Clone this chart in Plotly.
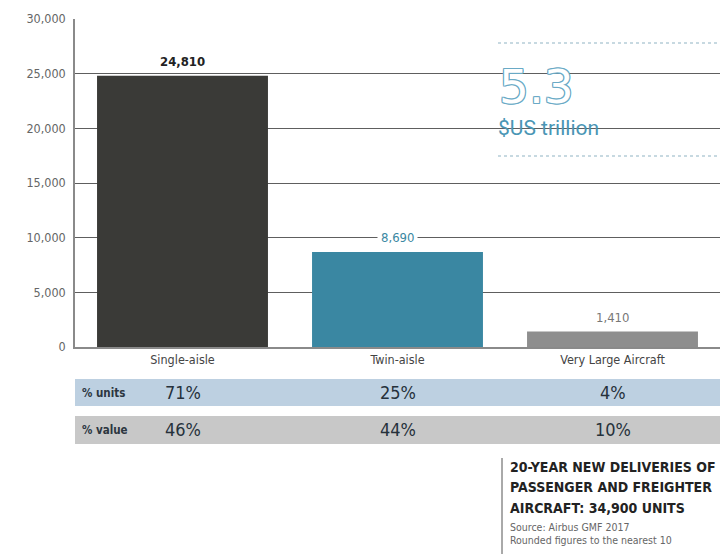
import plotly.graph_objects as go

categories = ["Single-aisle", "Twin-aisle", "Very Large Aircraft"]
deliveries = [24810, 8690, 1410]
bar_colors = ["#3a3a37", "#3a87a2", "#8e8e8e"]
label_colors = ["#222222", "#3a87a2", "#777777"]
pct_units = ["71%", "25%", "4%"]
pct_value = ["46%", "44%", "10%"]
row_names = ["% units", "% value"]
y_ticks = [0, 5000, 10000, 15000, 20000, 25000, 30000]
title_lines = ["20-YEAR NEW DELIVERIES OF", "PASSENGER AND FREIGHTER", "AIRCRAFT: 34,900 UNITS"]
source_lines = ["Source: Airbus GMF 2017", "Rounded figures to the nearest 10"]

FONT = "Liberation Sans Narrow, DejaVu Sans Condensed, Arial Narrow, Roboto, sans-serif"
TEAL = "#4a96b5"

# pixel helpers for the 720x554 canvas (plot area 75..720 x 19..347)
def py(pix):
    return (347 - pix) / 328

def px(pix):
    return (pix - 75) / 645

fig = go.Figure()
fig.add_trace(go.Bar(
    x=categories, y=deliveries,
    marker=dict(color=bar_colors, line=dict(width=0)),
    width=0.795, hoverinfo="skip", showlegend=False,
))

shapes = []
annotations = []

# value labels above bars
for i, (c, v) in enumerate(zip(categories, deliveries)):
    bold = i == 0
    annotations.append(dict(
        x=c, y=v, xref="x", yref="y", text=f"<b>{v:,}</b>" if bold else f"{v:,}",
        showarrow=False, yanchor="bottom", yshift=3,
        font=dict(family=FONT, size=13, color=label_colors[i]),
        bgcolor="white" if i == 1 else None, borderpad=3,
    ))

# 5.3 trillion callout box
shapes.append(dict(type="rect", xref="paper", yref="paper", x0=px(488), x1=1.0,
                   y0=py(162), y1=py(36), fillcolor="white", line=dict(width=0), layer="between"))
for yy in (43, 156):
    shapes.append(dict(type="line", xref="paper", yref="paper", x0=px(498), x1=1.0,
                       y0=py(yy), y1=py(yy), line=dict(color="#8fb3c4", width=1.2, dash="dot")))
outline = ", ".join(f"{a}px {b}px 0 #6aaac6" for a, b in
                    [(-1, -1), (1, -1), (-1, 1), (1, 1), (0, 1), (1, 0), (-1, 0), (0, -1)])
annotations.append(dict(x=px(497), y=py(87), xref="paper", yref="paper", text="5.3",
                        showarrow=False, xanchor="left", yanchor="middle",
                        font=dict(family="DejaVu Sans, sans-serif", size=47, color="white", shadow=outline)))
annotations.append(dict(x=px(496), y=py(128), xref="paper", yref="paper", text="$US trillion",
                        showarrow=False, xanchor="left", yanchor="middle",
                        font=dict(family="Roboto, sans-serif", size=21, color=TEAL)))

# percentage table rows
rows = [(pct_units, "#bdd0e1", 379, 406), (pct_value, "#c8c8c8", 416, 444)]
for name, (vals, col, top, bot) in zip(row_names, rows):
    shapes.append(dict(type="rect", xref="paper", yref="paper", x0=0, x1=1,
                       y0=py(bot), y1=py(top), fillcolor=col, line=dict(width=0), layer="below"))
    mid = py((top + bot) / 2)
    annotations.append(dict(x=px(80), y=mid, xref="paper", yref="paper", text=f"<b>{name}</b>",
                            showarrow=False, xanchor="left", yanchor="middle",
                            font=dict(family=FONT, size=11.5, color="#2c3640")))
    for c, v in zip(categories, vals):
        annotations.append(dict(x=c, y=mid, xref="x", yref="paper", text=v,
                                showarrow=False, xanchor="center", yanchor="middle",
                                font=dict(family=FONT, size=18, color="#26313b")))

# footer title and source
shapes.append(dict(type="line", xref="paper", yref="paper", x0=px(502), x1=px(502),
                   y0=py(458), y1=py(556), line=dict(color="#555555", width=1)))
for line, yy in zip(title_lines, (467, 487.5, 508)):
    annotations.append(dict(x=px(508), y=py(yy), xref="paper", yref="paper", text=f"<b>{line}</b>",
                            showarrow=False, xanchor="left", yanchor="middle",
                            font=dict(family=FONT, size=14, color="#222222")))
for line, yy in zip(source_lines, (527, 540)):
    annotations.append(dict(x=px(508), y=py(yy), xref="paper", yref="paper", text=line,
                            showarrow=False, xanchor="left", yanchor="middle",
                            font=dict(family=FONT, size=10.5, color="#666666")))

fig.update_layout(
    width=720, height=554,
    margin=dict(l=75, r=0, t=19, b=207),
    paper_bgcolor="white", plot_bgcolor="white",
    font=dict(family=FONT, color="#555555"),
    bargap=0.2,
    xaxis=dict(range=[-0.5, 2.5], showgrid=False, showline=True, linecolor="#8a8a8a",
               linewidth=1.5, ticks="", tickfont=dict(size=12.5, color="#444444"), fixedrange=True),
    yaxis=dict(range=[0, 30000], tickvals=y_ticks, tickformat=",", showgrid=True,
               gridcolor="#5e5e5e", gridwidth=1.3, zeroline=False, showline=True,
               linecolor="#8a8a8a", linewidth=1.5, ticks="", ticklabelstandoff=5,
               tickfont=dict(size=12.5, color="#666666"), fixedrange=True),
    shapes=shapes, annotations=annotations,
)

# drop the browser's default body margin so the figure sits at the top-left corner
fig.write_html("out.html", config={"displayModeBar": False},
               post_script="document.body.style.margin='0';")
